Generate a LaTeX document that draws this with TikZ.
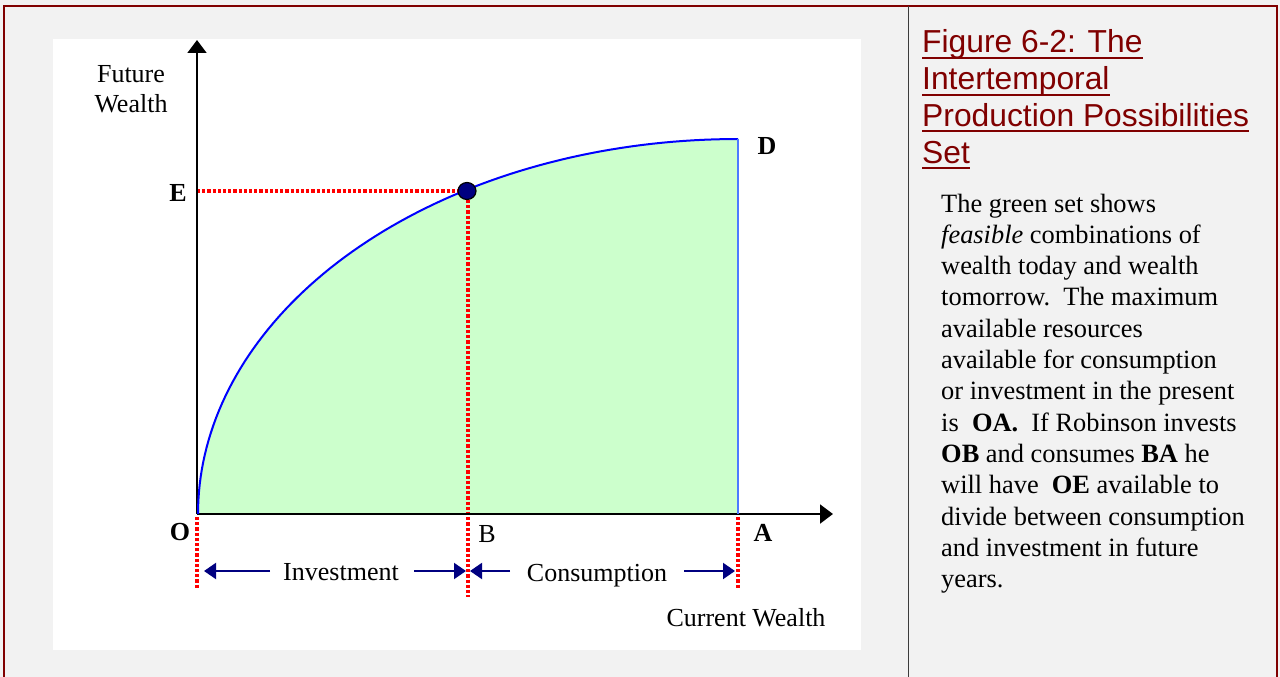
\documentclass[tikz,border=0pt]{standalone}
\usepackage{fontspec}
\setmainfont{Liberation Serif}
\newfontfamily\titlefont{Liberation Sans}
\usetikzlibrary{arrows.meta,shapes.geometric}
\definecolor{bordred}{RGB}{128,0,0}
\definecolor{panelgray}{RGB}{242,242,242}
\definecolor{setgreen}{RGB}{204,255,204}
\definecolor{navyc}{RGB}{0,0,128}
\definecolor{edgeblue}{RGB}{77,121,255}
\definecolor{divgray}{RGB}{60,60,60}
\begin{document}
\begin{tikzpicture}[x=1pt,y=-1pt,
  lbl/.style={font=\fontsize{26}{30}\selectfont, inner sep=0pt, anchor=base},
  blbl/.style={lbl, font=\fontsize{26}{30}\selectfont\bfseries},
  bodyline/.style={font=\fontsize{26.4}{33}\selectfont, inner sep=0pt, anchor=base west},
  titleline/.style={font=\titlefont\fontsize{31.8}{36}\selectfont, text=bordred, inner sep=0pt, anchor=base west},
  reddot/.style={red, line width=3.2pt, dash pattern=on 3.2pt off 2pt},
  axis/.style={black, line width=2pt, -{Triangle[length=13pt,width=19pt]}},
  dimarrow/.style={navyc, line width=2pt, -{Triangle[length=12pt,width=16pt]}},
  frontier/.style={blue, line width=2pt}
]
\useasboundingbox (0,0) rectangle (1280,677);
% backgrounds
\fill[panelgray] (0,0) rectangle (1280,677);
\fill[white] (53,39) rectangle (861,650);
\draw[bordred, line width=2pt] (4,677) -- (4,6) -- (1277,6) -- (1277,677);
\draw[divgray, line width=1pt] (908,6) -- (908,677);

% key points
\coordinate (O) at (197,514);
\coordinate (A) at (738,514);
\coordinate (D) at (738,139);
\coordinate (B) at (468,514);
\coordinate (E) at (197,191);
\coordinate (Yend) at (197,40);
\coordinate (Xend) at (833,514);

% feasible set
\fill[setgreen] (O) -- plot[domain=180:270, samples=80] ({738+540*cos(\x)},{514+375*sin(\x)}) -- (A) -- cycle;

% red dotted guides
\coordinate (Eend) at (459,191);
\coordinate (Bbot) at (468,597);
\coordinate (Btop) at (468,200);
\coordinate (Obot) at (197,588);
\coordinate (Abot) at (738,588);
\draw[reddot] (E) -- (Eend);
\draw[reddot] (Btop) -- (Bbot);
\draw[reddot] ([yshift=-3pt]O) -- (Obot);
\draw[reddot] ([yshift=-3pt]A) -- (Abot);

% axes
\draw[axis] (O) -- (Yend);
\draw[axis] (O) -- (Xend);

% frontier
\draw[frontier] plot[domain=180:270, samples=80] ({738+540*cos(\x)},{514+375*sin(\x)});
\draw[edgeblue, line width=1.5pt] (D) -- (A);

% chosen point
\node (pt) [ellipse, draw=black, fill=navyc, line width=1.2pt, minimum width=18pt, minimum height=17pt, inner sep=0pt] at (467,191) {};

% dimension arrows
\coordinate (i1s) at (270,571); \coordinate (i1e) at (204,571);
\coordinate (i2s) at (414,571); \coordinate (i2e) at (466,571);
\coordinate (c1s) at (510,571); \coordinate (c1e) at (470,571);
\coordinate (c2s) at (684,571); \coordinate (c2e) at (735,571);
\draw[dimarrow] (i1s) -- (i1e);
\draw[dimarrow] (i2s) -- (i2e);
\draw[dimarrow] (c1s) -- (c1e);
\draw[dimarrow] (c2s) -- (c2e);

% labels
\node (lfw1) [lbl] at (131,82) {Future};
\node (lfw2) [lbl] at (131,112) {Wealth};
\node (lE) [blbl] at (178,201) {E};
\node (lD) [blbl] at (767,154) {D};
\node (lO) [blbl] at (180,540) {O};
\node (lB) [lbl] at (487,542) {B};
\node (lA) [blbl] at (763,541) {A};
\node (linv) [lbl] at (341,580) {Investment};
\node (lcons) [lbl] at (597,581) {Consumption};
\node (lcw) [lbl] at (746,626) {Current Wealth};

% title
\foreach \t [count=\i] in {{Figure 6-2: The},{Intertemporal},{Production Possibilities},{Set}} {
  \node (t\i) [titleline] at (922,{53+(\i-1)*36.7}) {\t};
  \draw[bordred, line width=2pt] ([yshift=-5pt]t\i.base west) -- ([yshift=-5pt]t\i.base east);
}

% body text
\foreach \t [count=\i] in {
  {The green set shows},
  {\textit{feasible} combinations of},
  {wealth today and wealth},
  {tomorrow.\ \ The maximum},
  {available resources},
  {available for consumption},
  {or investment in the present},
  {is\ \ \textbf{OA.}\ \ If Robinson invests},
  {\textbf{OB} and consumes \textbf{BA} he},
  {will have\ \ \textbf{OE} available to},
  {divide between consumption},
  {and investment in future},
  {years.}} {
  \node (b\i) [bodyline] at (941,{212+(\i-1)*31.3}) {\t};
}
\end{tikzpicture}
\end{document}
